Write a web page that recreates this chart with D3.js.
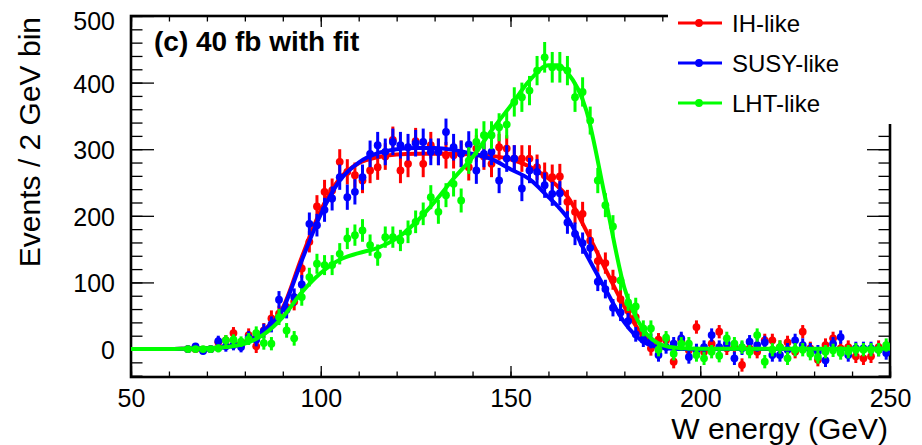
<!DOCTYPE html>
<html>
<head>
<meta charset="utf-8">
<script src="https://cdn.jsdelivr.net/npm/d3@7"></script>
<style>
    body { margin: 0; background: #fff; }
    svg { display: block; font-family: 'Liberation Sans', Arial, Helvetica, sans-serif; }
</style>
</head>
<body>
<div id="viz"></div>
<script>
// bin centres of the 2 GeV histogram bins (filled bins only)
let binCenters = d3.range(65, 250, 2);

let ihValues = [
    0, 0, -1, 0, 10, 13, 24, 6, 21, 4,
    28, 46, 53, 63, 71, 121, 161, 214, 236, 238,
    281, 266, 261, 253, 268, 273, 289, 314, 268, 278,
    312, 278, 306, 296, 291, 291, 293, 273, 301, 289,
    278, 303, 301, 286, 286, 286, 273, 261, 258, 259,
    221, 206, 203, 163, 132, 129, 104, 75, 58, 48,
    21, 1, 14, 13, -19, 13, -2, 33, -4, 8,
    26, 1, 3, -24, 1, -4, 13, 13, 3, 10,
    -4, 26, 1, -16, 6, 16, 1, 3, -11, -14,
    -11, 3, 1
];
let susyValues = [
    0, 4, -3, 0, 12, 4, 6, 3, 17, 14,
    27, 37, 74, 59, 78, 97, 188, 186, 209, 226,
    258, 228, 236, 258, 293, 306, 296, 311, 306, 303,
    309, 311, 296, 296, 326, 303, 293, 307, 268, 293,
    296, 253, 286, 286, 241, 268, 266, 246, 233, 234,
    190, 173, 159, 152, 101, 90, 62, 55, 42, 22,
    14, 12, -9, 3, 8, 16, -12, -2, 3, 21,
    3, 8, -14, 1, 11, 6, 10, -9, -9, -1,
    13, 6, -1, -4, -17, 8, 18, -9, 1, 1,
    1, -1, -6
];
let lhtValues = [
    0, 0, 0, 0, 1, 13, 14, 11, 15, 24,
    9, 8, 48, 28, 16, 78, 108, 128, 126, 126,
    143, 166, 171, 178, 156, 141, 168, 168, 163, 176,
    191, 203, 228, 206, 231, 248, 223, 283, 311, 321,
    321, 333, 337, 371, 378, 388, 418, 438, 423, 423,
    418, 378, 386, 343, 253, 216, 184, 103, 70, 64,
    31, 31, -1, 17, -7, 8, 8, -9, -14, -4,
    -10, 16, 8, 3, -4, 21, -19, -1, 3, -14,
    -1, -1, -7, -12, -4, -2, -6, -4, -1, -1,
    -1, -1, 6
];

let ihErrors = [
    4, 4, 4, 4, 8, 8, 9, 8, 10, 10,
    11, 12, 12, 13, 13, 14, 16, 17, 18, 18,
    19, 19, 19, 19, 19, 19, 20, 20, 19, 20,
    20, 20, 20, 20, 20, 20, 20, 20, 20, 20,
    20, 20, 20, 20, 20, 20, 19, 19, 19, 19,
    18, 18, 18, 17, 16, 16, 15, 14, 13, 13,
    12, 11, 10, 10, 10, 10, 10, 10, 10, 10,
    10, 10, 10, 10, 10, 10, 10, 10, 10, 10,
    10, 10, 10, 10, 10, 10, 10, 10, 10, 10,
    10, 10, 10
];
let susyErrors = [
    4, 4, 4, 4, 8, 8, 8, 8, 10, 10,
    11, 12, 13, 13, 13, 14, 17, 17, 18, 18,
    19, 19, 19, 19, 20, 20, 20, 20, 20, 20,
    20, 20, 20, 20, 20, 20, 20, 20, 20, 20,
    20, 19, 20, 20, 19, 19, 19, 19, 18, 18,
    17, 17, 16, 16, 14, 14, 13, 13, 12, 11,
    11, 11, 10, 10, 10, 10, 10, 10, 10, 10,
    10, 10, 10, 10, 10, 10, 10, 10, 10, 10,
    10, 10, 10, 10, 10, 10, 10, 10, 10, 10,
    10, 10, 10
];
let lhtErrors = [
    4, 4, 4, 4, 6, 8, 8, 8, 9, 10,
    10, 10, 12, 11, 11, 13, 14, 15, 15, 15,
    16, 16, 16, 17, 16, 16, 16, 16, 16, 17,
    17, 17, 18, 18, 18, 19, 18, 20, 20, 21,
    21, 21, 21, 22, 22, 22, 22, 23, 23, 23,
    22, 22, 22, 21, 19, 18, 17, 15, 13, 13,
    12, 12, 10, 10, 10, 10, 10, 10, 10, 10,
    10, 10, 10, 10, 10, 10, 10, 10, 10, 10,
    10, 10, 10, 10, 10, 10, 10, 10, 10, 10,
    10, 10, 10
];

// fitted curves, sampled along the energy axis
let fitEnergy = [50, 60, 65, 70, 75, 80, 85, 90, 95, 100, 105, 110, 115, 120, 125, 130,
    135, 140, 145, 150, 155, 160, 162.5, 165, 170, 175, 180, 185, 190, 195, 200, 250];
let ihFit = [0, 0, 0.5, 1, 4, 11, 28, 62, 138, 208, 256, 279, 288, 292, 293, 293,
    293, 292, 290, 285, 274, 256, 244, 229, 177, 120, 64, 20, 4, 0.5, 0, 0];
let susyFit = [0, 0, 0.5, 1, 3, 9, 27, 60, 133, 202, 253, 280, 294, 300, 302, 302,
    299, 293, 285, 270, 255, 228, 214, 197, 142, 90, 40, 11, 2, 0, 0, 0];
let lhtFit = [0, 0, 0.5, 1, 3, 8, 22, 48, 85, 114, 134, 144, 152, 166, 190, 221,
    256, 288, 328, 365, 403, 426, 426, 415, 358, 226, 92, 29, 6, 1, 0.5, 0.5];

let xTicks = [50, 100, 150, 200, 250];
let yTicks = [0, 100, 200, 300, 400, 500];

let seriesNames = ['IH-like', 'SUSY-like', 'LHT-like'];
let seriesColors = ['#ff0000', '#0000ff', '#00ff00'];

let width = 922, height = 445;
let plot = { left: 131, right: 890, top: 16, bottom: 377 };

let series = [
    { name: seriesNames[0], color: seriesColors[0], values: ihValues, errors: ihErrors, fit: ihFit },
    { name: seriesNames[1], color: seriesColors[1], values: susyValues, errors: susyErrors, fit: susyFit },
    { name: seriesNames[2], color: seriesColors[2], values: lhtValues, errors: lhtErrors, fit: lhtFit }
];

let xScale = d3.scaleLinear().domain([50, 250]).range([plot.left, plot.right]);
let yScale = d3.scaleLinear().domain([-42, 500]).range([plot.bottom, plot.top]);

let svg = d3.select('#viz')
    .append('svg')
    .attr('width', width)
    .attr('height', height);

svg.append('defs').append('clipPath')
    .attr('id', 'plotClip')
    .append('rect')
    .attr('x', plot.left)
    .attr('y', plot.top)
    .attr('width', plot.right - plot.left)
    .attr('height', plot.bottom - plot.top);

// axes: ticks point inwards, like ROOT
function styleAxis(g) {
    g.select('.domain').remove();
    g.selectAll('.tick line').attr('stroke', '#000').attr('stroke-width', 1.3);
    g.selectAll('text')
        .attr('fill', '#000')
        .style('font-size', '25px')
        .style('font-family', "'Liberation Sans', Arial, Helvetica, sans-serif");
}

let xMinor = d3.range(50, 251, 10);
let yMinor = d3.range(-40, 501, 20);

svg.append('g')
    .attr('transform', 'translate(0,' + plot.bottom + ')')
    .call(d3.axisBottom(xScale).tickValues(xMinor).tickSizeInner(-5.5).tickSizeOuter(0).tickFormat(''))
    .call(styleAxis);
svg.append('g')
    .attr('transform', 'translate(0,' + plot.bottom + ')')
    .call(d3.axisBottom(xScale).tickValues(xTicks).tickSizeInner(-11).tickSizeOuter(0).tickPadding(12))
    .call(styleAxis);
svg.append('g')
    .attr('transform', 'translate(0,' + plot.top + ')')
    .call(d3.axisTop(xScale).tickValues(xMinor).tickSizeInner(-5.5).tickSizeOuter(0).tickFormat(''))
    .call(styleAxis);
svg.append('g')
    .attr('transform', 'translate(0,' + plot.top + ')')
    .call(d3.axisTop(xScale).tickValues(xTicks).tickSizeInner(-11).tickSizeOuter(0).tickFormat(''))
    .call(styleAxis);

svg.append('g')
    .attr('transform', 'translate(' + plot.left + ',0)')
    .call(d3.axisLeft(yScale).tickValues(yMinor).tickSizeInner(-11.5).tickSizeOuter(0).tickFormat(''))
    .call(styleAxis);
let yAxisG = svg.append('g')
    .attr('transform', 'translate(' + plot.left + ',0)')
    .call(d3.axisLeft(yScale).tickValues(yTicks).tickSizeInner(-23).tickSizeOuter(0).tickPadding(16))
    .call(styleAxis);
yAxisG.selectAll('text')
    .attr('dy', (d) => d === 500 ? '0.55em' : '0.38em');

svg.append('g')
    .attr('transform', 'translate(' + plot.right + ',0)')
    .call(d3.axisRight(yScale).tickValues(yMinor).tickSizeInner(-11.5).tickSizeOuter(0).tickFormat(''))
    .call(styleAxis);
svg.append('g')
    .attr('transform', 'translate(' + plot.right + ',0)')
    .call(d3.axisRight(yScale).tickValues(yTicks).tickSizeInner(-23).tickSizeOuter(0).tickFormat(''))
    .call(styleAxis);

svg.append('rect')
    .attr('x', plot.left)
    .attr('y', plot.top)
    .attr('width', plot.right - plot.left)
    .attr('height', plot.bottom - plot.top)
    .attr('fill', 'none')
    .attr('stroke', '#000')
    .attr('stroke-width', 2.6);

// data points with error bars, then the fit, one histogram at a time
let fitLine = d3.line()
    .x((d, i) => xScale(fitEnergy[i]))
    .y((d) => yScale(d))
    .curve(d3.curveMonotoneX);

let marks = svg.append('g').attr('clip-path', 'url(#plotClip)');

series.forEach((s) => {
    let g = marks.append('g');
    let pts = binCenters.map((c, i) => ({ x: c, y: s.values[i], e: s.errors[i] }));

    g.selectAll('line.err').data(pts)
        .enter()
        .append('line')
        .attr('class', 'err')
        .attr('x1', (d) => xScale(d.x))
        .attr('x2', (d) => xScale(d.x))
        .attr('y1', (d) => yScale(d.y - d.e))
        .attr('y2', (d) => yScale(d.y + d.e))
        .attr('stroke', s.color)
        .attr('stroke-width', 3);

    g.selectAll('circle').data(pts)
        .enter()
        .append('circle')
        .attr('cx', (d) => xScale(d.x))
        .attr('cy', (d) => yScale(d.y))
        .attr('r', 3.9)
        .attr('fill', s.color);

    g.append('path')
        .datum(s.fit)
        .attr('d', fitLine)
        .attr('fill', 'none')
        .attr('stroke', s.color)
        .attr('stroke-width', 4);
});

// legend box sits on top of the frame corner
let legend = svg.append('g');
legend.append('rect')
    .attr('x', 668)
    .attr('y', -2)
    .attr('width', 260)
    .attr('height', 126)
    .attr('fill', '#fff');

let rows = legend.selectAll('g.row').data(series)
    .enter()
    .append('g')
    .attr('class', 'row')
    .attr('transform', (d, i) => 'translate(0,' + (23 + i * 40) + ')');
rows.append('line')
    .attr('x1', 678)
    .attr('x2', 722)
    .attr('stroke', (d) => d.color)
    .attr('stroke-width', 2.8);
rows.append('circle')
    .attr('cx', 699)
    .attr('r', 3.9)
    .attr('fill', (d) => d.color);
rows.append('text')
    .attr('x', 732)
    .attr('y', 8.5)
    .style('font-size', '24px')
    .attr('fill', '#000')
    .text((d) => d.name);

// titles
svg.append('text')
    .attr('x', 154)
    .attr('y', 51)
    .style('font-size', '28px')
    .style('font-weight', 'bold')
    .text('(c) 40 fb with fit');

svg.append('text')
    .attr('x', 888)
    .attr('y', 439)
    .attr('text-anchor', 'end')
    .style('font-size', '30px')
    .text('W energy (GeV)');

svg.append('text')
    .attr('transform', 'translate(40,17) rotate(-90)')
    .attr('text-anchor', 'end')
    .style('font-size', '30px')
    .text('Events / 2 GeV bin');
</script>
</body>
</html>
